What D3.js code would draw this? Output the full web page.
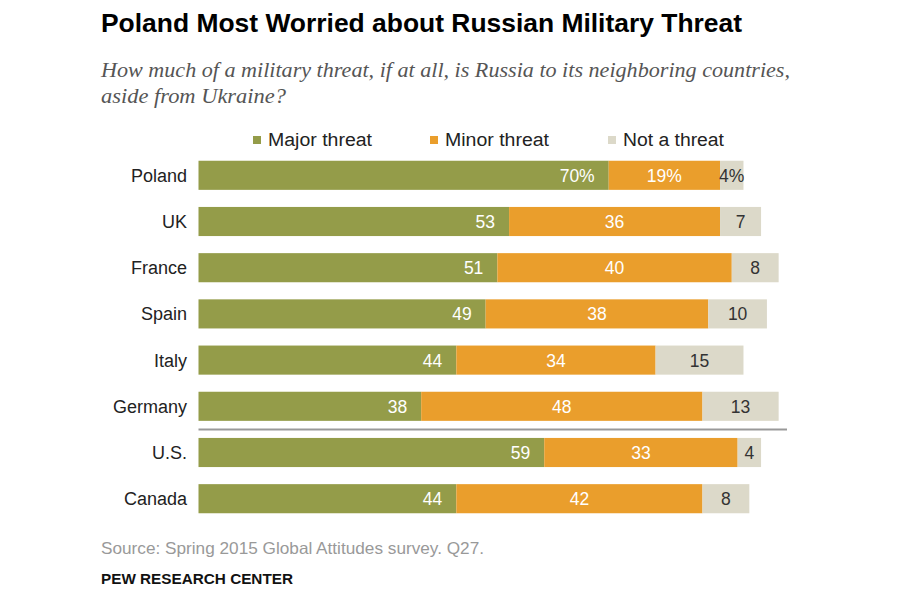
<!DOCTYPE html>
<html>
<head>
<meta charset="utf-8">
<title>Poland Most Worried about Russian Military Threat</title>
<script src="https://d3js.org/d3.v7.min.js"></script>
<style>
  html, body { margin: 0; background: #fff; }
  svg { display: block; }
</style>
</head>
<body>
<svg width="900" height="600"></svg>
<script>
// data
const countries = ["Poland", "UK", "France", "Spain", "Italy", "Germany", "U.S.", "Canada"];
const major = [70, 53, 51, 49, 44, 38, 59, 44];
const minor = [19, 36, 40, 38, 34, 48, 33, 42];
const notThreat = [4, 7, 8, 10, 15, 13, 4, 8];
const seriesNames = ["Major threat", "Minor threat", "Not a threat"];
const colors = ["#949c49", "#ea9e2c", "#dcd9c9"];
const labelColors = ["#fff", "#fff", "#333"];

const rows = countries.map((c, i) => ({country: c, values: [major[i], minor[i], notThreat[i]]}));

const svg = d3.select("svg");
const font = "'Liberation Sans', Arial, sans-serif";

// title + subtitle
svg.append("text")
    .attr("x", 101).attr("y", 32)
    .attr("font-family", font).attr("font-weight", "bold")
    .attr("font-size", 25).attr("fill", "#000")
    .attr("textLength", 641).attr("lengthAdjust", "spacingAndGlyphs")
    .text("Poland Most Worried about Russian Military Threat");

const sub = ["How much of a military threat, if at all, is Russia to its neighboring countries,",
             "aside from Ukraine?"];
const subLen = [689, 185];
svg.selectAll(".sub").data(sub).enter().append("text")
    .attr("class", "sub")
    .attr("x", 101).attr("y", (d, i) => 77 + i * 26)
    .attr("font-family", "'Liberation Serif', Georgia, serif")
    .attr("font-style", "italic").attr("font-size", 21).attr("fill", "#555")
    .attr("textLength", (d, i) => subLen[i])
    .attr("lengthAdjust", "spacingAndGlyphs")
    .text(d => d);

const x = d3.scaleLinear().domain([0, 100]).range([198.5, 784.5]);
const y = d3.scaleBand().domain(countries).range([152.2, 521.8])
    .paddingInner(0.37).paddingOuter(0.185);

// legend
const legendX = [253, 430, 608];
const legendLen = [104, 104, 101];
const legend = svg.selectAll(".legend").data(seriesNames).enter().append("g")
    .attr("class", "legend")
    .attr("transform", (d, i) => `translate(${legendX[i]},140)`);
legend.append("rect")
    .attr("x", 0).attr("y", -4).attr("width", 8).attr("height", 8)
    .attr("fill", (d, i) => colors[i]);
legend.append("text")
    .attr("x", 15).attr("y", 6)
    .attr("font-family", font).attr("font-size", 18).attr("fill", "#222")
    .attr("textLength", (d, i) => legendLen[i])
    .attr("lengthAdjust", "spacingAndGlyphs")
    .text(d => d);

// bars
const row = svg.selectAll(".row").data(rows).enter().append("g")
    .attr("class", "row")
    .attr("transform", d => `translate(0,${y(d.country)})`);

row.append("text")
    .attr("x", 187).attr("y", y.bandwidth() / 2 + 6.5)
    .attr("text-anchor", "end")
    .attr("font-family", font).attr("font-size", 18).attr("fill", "#222")
    .text(d => d.country);

row.each(function (d, ri) {
    const g = d3.select(this);
    let acc = 0;
    d.values.forEach((v, si) => {
        const x0 = x(acc), x1 = x(acc + v);
        acc += v;
        g.append("rect")
            .attr("x", x0).attr("y", 0)
            .attr("width", x1 - x0).attr("height", y.bandwidth())
            .attr("fill", colors[si]);
        const label = ri === 0 ? v + "%" : String(v);
        g.append("text")
            .attr("x", si === 0 ? x1 - 14 : (x0 + x1) / 2)
            .attr("y", y.bandwidth() / 2 + 6.5)
            .attr("text-anchor", si === 0 ? "end" : "middle")
            .attr("font-family", font).attr("font-size", 17.5)
            .attr("fill", labelColors[si])
            .text(label);
    });
});

// separator between Europe and North America
const sepY = (y("Germany") + y.bandwidth() + y("U.S.")) / 2;
svg.append("line")
    .attr("x1", x(0)).attr("x2", 787)
    .attr("y1", sepY).attr("y2", sepY)
    .attr("stroke", "#999").attr("stroke-width", 2);

// footer
svg.append("text")
    .attr("x", 101).attr("y", 554)
    .attr("font-family", font).attr("font-size", 16.5).attr("fill", "#999")
    .attr("textLength", 383).attr("lengthAdjust", "spacingAndGlyphs")
    .text("Source: Spring 2015 Global Attitudes survey. Q27.");
svg.append("text")
    .attr("x", 101).attr("y", 584)
    .attr("font-family", font).attr("font-weight", "bold")
    .attr("font-size", 14.5).attr("fill", "#111")
    .attr("textLength", 192).attr("lengthAdjust", "spacingAndGlyphs")
    .text("PEW RESEARCH CENTER");
</script>
</body>
</html>
